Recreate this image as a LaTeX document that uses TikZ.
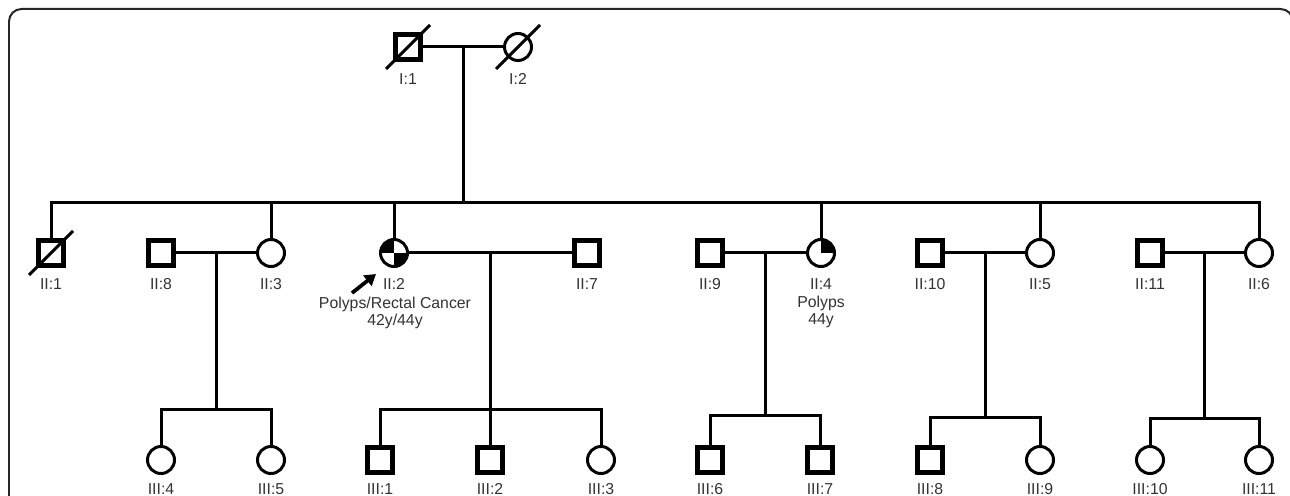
\documentclass[tikz,border=0pt]{standalone}
\usepackage{fontspec}
\setmainfont{Liberation Sans}
\usetikzlibrary{calc,arrows.meta}

\begin{document}
\begin{tikzpicture}[x=0.02cm, y=-0.02cm, line width=0.06cm,
    male/.style={draw, rectangle, line width=0.095cm, minimum size=0.5cm, inner sep=0pt},
    female/.style={draw, circle, line width=0.06cm, minimum size=0.54cm, inner sep=0pt},
    idtext/.style={anchor=base, inner sep=0pt, text=black!80, font=\fontsize{9}{10}\selectfont},
    quadTR/.style={path picture={\fill (path picture bounding box.center) -- (path picture bounding box.east) |- (path picture bounding box.north) -- cycle;}},
    quadTLBR/.style={path picture={
        \fill (path picture bounding box.center) -- (path picture bounding box.west) |- (path picture bounding box.north) -- cycle;
        \fill (path picture bounding box.center) -- (path picture bounding box.east) |- (path picture bounding box.south) -- cycle;}}]
    \useasboundingbox (0,0) rectangle (1290,496);
    % frame
    \begin{scope}
        \clip (0,0) rectangle (1290,496);
        \draw[black!85, line width=0.04cm, rounded corners=0.25cm] (9,560) -- (9,9) -- (1293,9) -- (1293,560);
    \end{scope}

    % generation I
    \node[male] (I1) at (408,47) {};
    \node[female] (I2) at (518,47) {};
    \draw ($(I1)+(-22,22)$) -- ($(I1)+(22,-22)$);
    \draw ($(I2)+(-22,22)$) -- ($(I2)+(22,-22)$);
    \node[idtext] (lI1) at (408,85) {I:1};
    \node[idtext] (lI2) at (518,85) {I:2};

    % generation II
    \node[male] (II1) at (51,253) {};
    \node[male] (II8) at (161,253) {};
    \node[female] (II3) at (271,253) {};
    \node[female, quadTLBR] (II2) at (394,253) {};
    \node[male] (II7) at (587,253) {};
    \node[male] (II9) at (710,253) {};
    \node[female, quadTR] (II4) at (821,253) {};
    \node[male] (II10) at (930,253) {};
    \node[female] (II5) at (1040,253) {};
    \node[male] (II11) at (1150,253) {};
    \node[female] (II6) at (1259,253) {};
    \draw ($(II1)+(-22,22)$) -- ($(II1)+(22,-22)$);

    \node[idtext] (lII1) at (51,290) {II:1};
    \node[idtext] (lII8) at (161,290) {II:8};
    \node[idtext] (lII3) at (271,290) {II:3};
    \node[idtext] (lII2) at (394,290) {II:2};
    \node[idtext] (lII7) at (587,290) {II:7};
    \node[idtext] (lII9) at (710,290) {II:9};
    \node[idtext] (lII4) at (821,290) {II:4};
    \node[idtext] (lII10) at (930,290) {II:10};
    \node[idtext] (lII5) at (1040,290) {II:5};
    \node[idtext] (lII11) at (1150,290) {II:11};
    \node[idtext] (lII6) at (1259,290) {II:6};
    \node[idtext] (dxII2) at (395,308) {Polyps/Rectal Cancer};
    \node[idtext] (ageII2) at (395,325) {42y/44y};
    \node[idtext] (dxII4) at (821,307) {Polyps};
    \node[idtext] (ageII4) at (821,324) {44y};

    % proband arrow
    \coordinate (probtail) at (352,293);
    \coordinate (probtip) at (376,274);
    \draw[line width=0.075cm, -{Triangle[length=0.22cm, width=0.26cm]}] (probtail) -- (probtip);

    % generation III
    \node[female] (III4) at (161,460) {};
    \node[female] (III5) at (271,460) {};
    \node[male] (III1) at (380,460) {};
    \node[male] (III2) at (490,460) {};
    \node[female] (III3) at (601,460) {};
    \node[male] (III6) at (710,460) {};
    \node[male] (III7) at (820,460) {};
    \node[male] (III8) at (930,460) {};
    \node[female] (III9) at (1040,460) {};
    \node[female] (III10) at (1150,460) {};
    \node[female] (III11) at (1259,460) {};

    \node[idtext] (lIII4) at (161,494) {III:4};
    \node[idtext] (lIII5) at (271,494) {III:5};
    \node[idtext] (lIII1) at (380,494) {III:1};
    \node[idtext] (lIII2) at (490,494) {III:2};
    \node[idtext] (lIII3) at (601,494) {III:3};
    \node[idtext] (lIII6) at (710,494) {III:6};
    \node[idtext] (lIII7) at (820,494) {III:7};
    \node[idtext] (lIII8) at (930,494) {III:8};
    \node[idtext] (lIII9) at (1040,494) {III:9};
    \node[idtext] (lIII10) at (1150,494) {III:10};
    \node[idtext] (lIII11) at (1259,494) {III:11};

    % couples and sibships
    \draw (I1) -- (I2);
    \coordinate (famI) at ($(I1)!0.5!(I2)$);
    \coordinate (sibII) at (famI |- 0,203);
    \draw (famI) -- (sibII);
    \draw (II1.north) |- (sibII) -| (II6.north);
    \draw (II3.north) -- (II3.north |- sibII);
    \draw (II2.north) -- (II2.north |- sibII);
    \draw (II4.north) -- (II4.north |- sibII);
    \draw (II5.north) -- (II5.north |- sibII);

    \draw (II8) -- (II3);
    \coordinate (famA) at ($(II8)!0.5!(II3)$);
    \coordinate (sibA) at (famA |- 0,409);
    \draw (famA) -- (sibA);
    \draw (III4.north) |- (sibA) -| (III5.north);

    \draw (II2) -- (II7);
    \coordinate (famB) at ($(II2)!0.5!(II7)$);
    \coordinate (sibB) at (famB |- 0,409);
    \draw (famB) -- (sibB);
    \draw (III1.north) |- (sibB) -| (III3.north);
    \draw (III2.north) -- (III2.north |- sibB);

    \draw (II9) -- (II4);
    \coordinate (famC) at ($(II9)!0.5!(II4)$);
    \coordinate (sibC) at (famC |- 0,415);
    \draw (famC) -- (sibC);
    \draw (III6.north) |- (sibC) -| (III7.north);

    \draw (II10) -- (II5);
    \coordinate (famD) at ($(II10)!0.5!(II5)$);
    \coordinate (sibD) at (famD |- 0,417);
    \draw (famD) -- (sibD);
    \draw (III8.north) |- (sibD) -| (III9.north);

    \draw (II11) -- (II6);
    \coordinate (famE) at ($(II11)!0.5!(II6)$);
    \coordinate (sibE) at (famE |- 0,418);
    \draw (famE) -- (sibE);
    \draw (III10.north) |- (sibE) -| (III11.north);

\end{tikzpicture}
\end{document}
